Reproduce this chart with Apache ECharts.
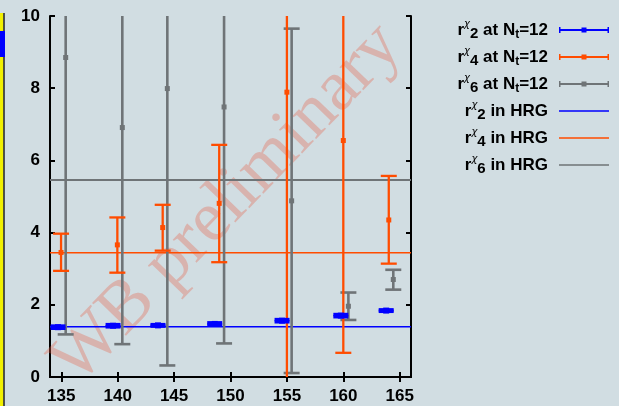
<!DOCTYPE html>
<html><head><meta charset="utf-8">
<script src="https://cdn.jsdelivr.net/npm/echarts@6/dist/echarts.min.js"></script>
<style>html,body{margin:0;padding:0;background:#d1dde2}#c{width:619px;height:406px}</style>
</head><body><div id="c"></div>
<script>
// ---- data ----
const xTicks = [135, 140, 145, 150, 155, 160, 165];
const yTicks = [0, 2, 4, 6, 8, 10];
const X_MIN = 134, X_MAX = 166;

const chi2X  = [134.71, 139.59, 143.57, 148.60, 154.57, 159.78, 163.80];
const chi2Y  = [1.38, 1.42, 1.43, 1.47, 1.56, 1.70, 1.84];
const chi2Lo = [1.35, 1.39, 1.41, 1.44, 1.53, 1.67, 1.82];
const chi2Hi = [1.41, 1.45, 1.45, 1.50, 1.59, 1.73, 1.86];

const chi4X  = [134.98, 139.97, 143.99, 149.00, 155.00, 160.00, 164.03];
const chi4Y  = [3.45, 3.66, 4.14, 4.81, 7.89, 6.55, 4.35];
const chi4Lo = [2.94, 2.89, 3.50, 3.18, -1.0, 0.67, 3.14];
const chi4Hi = [3.97, 4.42, 4.77, 6.43, 15.0, 15.0, 5.57];

const chi6X  = [135.39, 140.41, 144.40, 149.43, 155.42, 160.45, 164.43];
const chi6Y  = [8.85, 6.91, 7.99, 7.48, 4.88, 1.96, 2.70];
const chi6Lo = [1.18, 0.91, 0.32, 0.93, 0.11, 1.58, 2.42];
const chi6Hi = [15.0, 15.0, 15.0, 15.0, 9.65, 2.34, 2.97];

const hrgValues = [1.39, 3.44, 5.46];

const legendLabels = {
  r2N: '{m|r}{sup|χ}{sub|2}{m| at N}{sub2|t}{m|=12}{sp|}',
  r4N: '{m|r}{sup|χ}{sub|4}{m| at N}{sub2|t}{m|=12}{sp|}',
  r6N: '{m|r}{sup|χ}{sub|6}{m| at N}{sub2|t}{m|=12}{sp|}',
  r2H: '{m|r}{sup|χ}{sub|2}{m| in HRG}{sp|}',
  r4H: '{m|r}{sup|χ}{sub|4}{m| in HRG}{sp|}',
  r6H: '{m|r}{sup|χ}{sub|6}{m| in HRG}{sp|}'
};

const BLUE = '#0000ff', ORANGE = '#ff4c00', GREY = '#6f7477';

function zip(xs, ys, lo, hi) { return xs.map((x, i) => [x, ys[i], lo[i], hi[i]]); }

function errRender(color, capW, lw, msize) {
  return function (params, api) {
    const x = api.value(0), y = api.value(1), lo = api.value(2), hi = api.value(3);
    const pLo = api.coord([x, lo]), pHi = api.coord([x, hi]), p = api.coord([x, y]);
    const st = { stroke: color, lineWidth: lw, fill: null };
    return { type: 'group', children: [
      { type: 'line', shape: { x1: pLo[0], y1: pLo[1], x2: pHi[0], y2: pHi[1] }, style: st },
      { type: 'line', shape: { x1: pLo[0] - capW / 2, y1: pLo[1], x2: pLo[0] + capW / 2, y2: pLo[1] }, style: st },
      { type: 'line', shape: { x1: pHi[0] - capW / 2, y1: pHi[1], x2: pHi[0] + capW / 2, y2: pHi[1] }, style: st },
      { type: 'rect', shape: { x: p[0] - msize / 2, y: p[1] - msize / 2, width: msize, height: msize }, style: { fill: color } }
    ]};
  };
}

const errIcon = 'path://M0,0H1.5V2H22.5V0.5H27.5V2H48.5V0H50V6H48.5V4H27.5V5.5H22.5V4H1.5V6H0Z';
const lineIcon = 'path://M0,0h0.01v0.01h-0.01zM49.99,5.99h0.01v0.01h-0.01zM0,2.25H50V3.75H0Z';

const FONT = 'Liberation Sans';
const chart = echarts.init(document.getElementById('c'));
const axisCommon = {
  axisLine: { show: true, lineStyle: { color: '#000', width: 2 } },
  splitLine: { show: false }
};
chart.setOption({
  backgroundColor: '#d1dde2',
  animation: false,
  grid: { left: 50, right: 208, top: 16, bottom: 29 },
  xAxis: [
    Object.assign({}, axisCommon, {
      type: 'value', min: X_MIN, max: X_MAX, position: 'bottom',
      axisTick: { show: true, inside: true, length: 5, customValues: xTicks, lineStyle: { color: '#000', width: 2 } },
      axisLabel: { customValues: xTicks, color: '#000', fontFamily: FONT, fontWeight: 'bold', fontSize: 17, margin: 11 }
    }),
    Object.assign({}, axisCommon, {
      type: 'value', min: X_MIN, max: X_MAX, position: 'top',
      axisTick: { show: true, inside: true, length: 5, customValues: xTicks, lineStyle: { color: '#000', width: 2 } },
      axisLabel: { show: false }
    })
  ],
  yAxis: [
    Object.assign({}, axisCommon, {
      type: 'value', min: 0, max: 10, interval: 2, position: 'left',
      axisTick: { show: true, inside: true, length: 5, lineStyle: { color: '#000', width: 2 } },
      axisLabel: { color: '#000', fontFamily: FONT, fontWeight: 'bold', fontSize: 17, margin: 10 }
    }),
    Object.assign({}, axisCommon, {
      type: 'value', min: 0, max: 10, interval: 2, position: 'right',
      axisTick: { show: true, inside: true, length: 5, lineStyle: { color: '#000', width: 2 } },
      axisLabel: { show: false }
    })
  ],
  legend: {
    orient: 'vertical', right: 10, top: 19, align: 'right', padding: 0,
    itemWidth: 50, itemHeight: 6, itemGap: 5,
    data: [
      { name: 'r2N', icon: errIcon }, { name: 'r4N', icon: errIcon }, { name: 'r6N', icon: errIcon },
      { name: 'r2H', icon: lineIcon }, { name: 'r4H', icon: lineIcon }, { name: 'r6H', icon: lineIcon }
    ],
    formatter: n => legendLabels[n],
    textStyle: {
      color: '#000', fontFamily: FONT, fontWeight: 'bold', fontSize: 17,
      rich: {
        m: { fontFamily: FONT, fontWeight: 'bold', fontSize: 17, lineHeight: 22, verticalAlign: 'middle', color: '#000' },
        sup: { fontFamily: 'DejaVu Sans', fontStyle: 'italic', fontWeight: 'normal', fontSize: 10, lineHeight: 13, verticalAlign: 'top', color: '#000' },
        sub: { fontFamily: FONT, fontWeight: 'bold', fontSize: 15, lineHeight: 11, verticalAlign: 'bottom', color: '#000' },
        sub2: { fontFamily: FONT, fontWeight: 'bold', fontSize: 12, lineHeight: 9, verticalAlign: 'bottom', color: '#000' },
        sp: { width: 6, lineHeight: 22 }
      }
    }
  },
  graphic: [
    { type: 'text', x: 227, y: 204, rotation: 46 * Math.PI / 180, z: 1, silent: true,
      style: { text: 'WB preliminary', fontSize: 72, fontFamily: 'Liberation Serif', fill: 'rgba(230,95,70,0.33)', align: 'center', verticalAlign: 'middle' } },
    { type: 'rect', shape: { x: 0, y: 13, width: 3.5, height: 393 }, style: { fill: '#f2f000' }, z: 1, silent: true },
    { type: 'line', shape: { x1: 4, y1: 13, x2: 4, y2: 406 }, style: { stroke: '#222', lineWidth: 1.5 }, z: 1, silent: true },
    { type: 'rect', shape: { x: 0, y: 31, width: 5, height: 26 }, style: { fill: '#0000ff' }, z: 1, silent: true }
  ],
  series: [
    { name: 'r2N', type: 'custom', clip: true, itemStyle: { color: BLUE }, renderItem: errRender(BLUE, 15, 3.5, 6),
      encode: { x: 0, y: 1 }, data: zip(chi2X, chi2Y, chi2Lo, chi2Hi), z: 5 },
    { name: 'r4N', type: 'custom', clip: true, itemStyle: { color: ORANGE }, renderItem: errRender(ORANGE, 16, 2.3, 5),
      encode: { x: 0, y: 1 }, data: zip(chi4X, chi4Y, chi4Lo, chi4Hi), z: 4 },
    { name: 'r6N', type: 'custom', clip: true, itemStyle: { color: GREY }, renderItem: errRender(GREY, 16, 2.6, 5),
      encode: { x: 0, y: 1 }, data: zip(chi6X, chi6Y, chi6Lo, chi6Hi), z: 3 },
    { name: 'r2H', type: 'line', symbol: 'none', color: BLUE, lineStyle: { color: BLUE, width: 1.5 },
      data: [[X_MIN, hrgValues[0]], [X_MAX, hrgValues[0]]], z: 2 },
    { name: 'r4H', type: 'line', symbol: 'none', color: ORANGE, lineStyle: { color: ORANGE, width: 1.5 },
      data: [[X_MIN, hrgValues[1]], [X_MAX, hrgValues[1]]], z: 2 },
    { name: 'r6H', type: 'line', symbol: 'none', color: GREY, lineStyle: { color: GREY, width: 2 },
      data: [[X_MIN, hrgValues[2]], [X_MAX, hrgValues[2]]], z: 2 }
  ]
});
</script></body></html>
